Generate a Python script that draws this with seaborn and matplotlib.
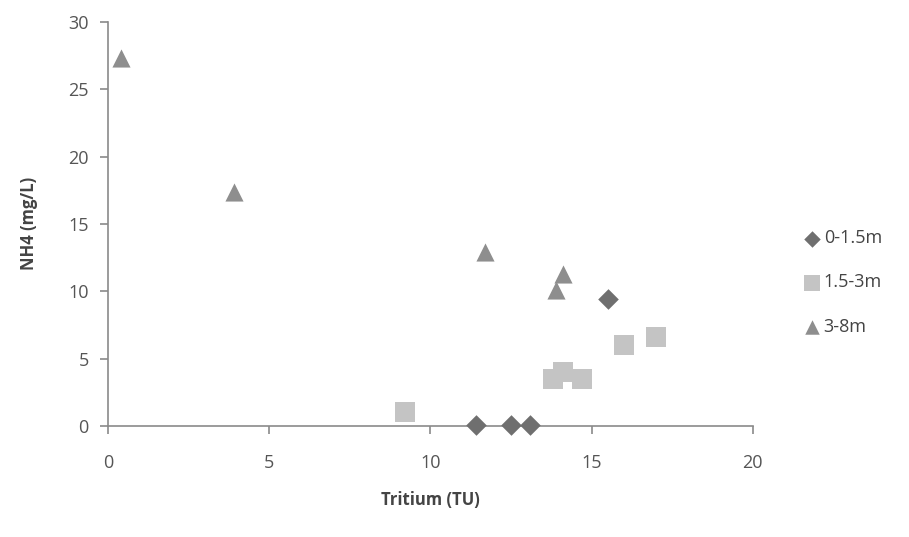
import numpy as np
import pandas as pd
import matplotlib
matplotlib.use('Agg')
import matplotlib.pyplot as plt
import seaborn as sns

# Data
depths = ['0-1.5m', '1.5-3m', '3-8m']
tritium_shallow = [11.4, 12.5, 13.1, 15.5]
nh4_shallow = [0.05, 0.08, 0.08, 9.4]
tritium_mid = [9.2, 13.8, 14.1, 14.7, 16.0, 17.0]
nh4_mid = [1.0, 3.5, 4.0, 3.5, 6.0, 6.6]
tritium_deep = [0.4, 3.9, 11.7, 13.9, 14.1]
nh4_deep = [27.3, 17.4, 12.9, 10.1, 11.3]

df = pd.concat([
    pd.DataFrame({'Tritium': tritium_shallow, 'NH4': nh4_shallow, 'Depth': depths[0]}),
    pd.DataFrame({'Tritium': tritium_mid, 'NH4': nh4_mid, 'Depth': depths[1]}),
    pd.DataFrame({'Tritium': tritium_deep, 'NH4': nh4_deep, 'Depth': depths[2]}),
])

sns.set_style('white')
plt.rcParams['font.family'] = ['Open Sans', 'DejaVu Sans']
plt.rcParams['xtick.bottom'] = True
plt.rcParams['ytick.left'] = True

fig = plt.figure(figsize=(9.09, 5.37), dpi=100)
ax = fig.add_axes([0.119, 0.207, 0.709, 0.752])

palette = {'0-1.5m': '#6f6f6f', '1.5-3m': '#c4c4c4', '3-8m': '#8e8e8e'}
markers = {'0-1.5m': 'D', '1.5-3m': 's', '3-8m': '^'}
sizes = {'0-1.5m': 110, '1.5-3m': 190, '3-8m': 170}

for d in depths:
    sub = df[df['Depth'] == d]
    sns.scatterplot(data=sub, x='Tritium', y='NH4', color=palette[d], marker=markers[d],
                    s=sizes[d], linewidth=0, ax=ax, label=d, zorder=3, clip_on=False)

ax.set_xlim(0, 20)
ax.set_ylim(0, 30)
ax.set_xticks(range(0, 21, 5))
ax.set_yticks(range(0, 31, 5))

for side in ['top', 'right']:
    ax.spines[side].set_visible(False)
for side in ['left', 'bottom']:
    ax.spines[side].set_color('#8a8a8a')
    ax.spines[side].set_linewidth(1.2)

ax.tick_params(axis='both', which='major', direction='out', length=6, width=1.2,
               bottom=True, left=True,
               color='#8a8a8a', labelcolor='#555555', labelsize=13)
ax.tick_params(axis='y', pad=8)
ax.tick_params(axis='x', pad=14)

ax.set_xlabel('Tritium (TU)', fontsize=12, fontweight='bold', color='#444444', labelpad=14)
ax.set_ylabel('NH4 (mg/L)', fontsize=12, fontweight='bold', color='#444444', labelpad=22)

leg = ax.legend(loc='center left', bbox_to_anchor=(1.05, 0.355), frameon=False,
                fontsize=13, labelspacing=1.45, handletextpad=0.05, handlelength=1.2,
                markerscale=0.8)
for t in leg.get_texts():
    t.set_color('#444444')

fig.savefig('out.png', dpi=100)
